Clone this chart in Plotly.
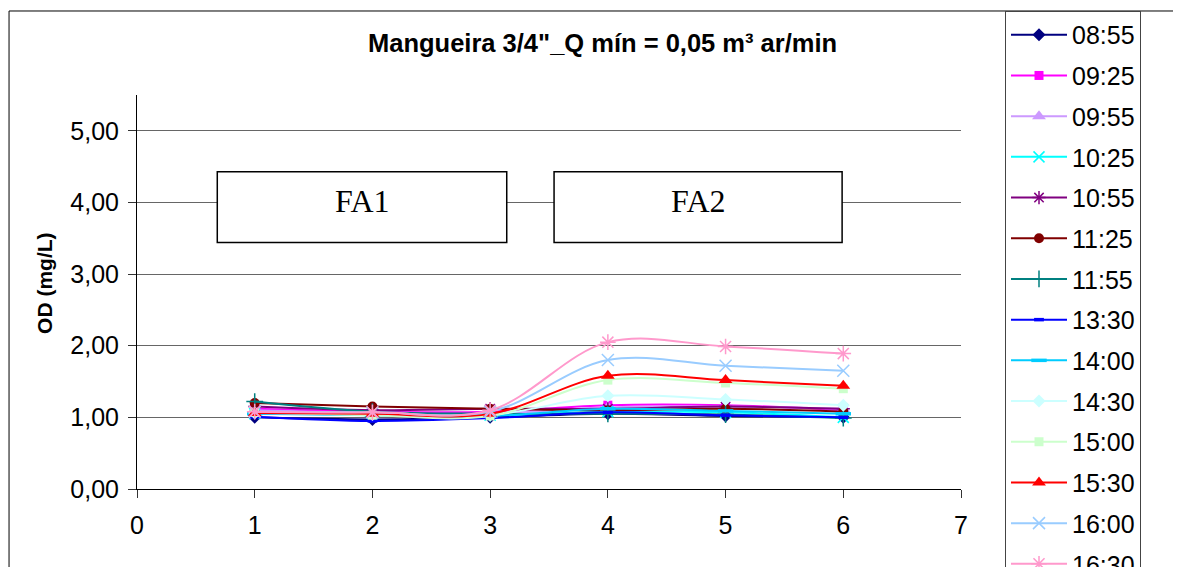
import plotly.graph_objects as go

# ---- data ----
x_points = [1, 2, 3, 4, 5, 6]
series_names = ["08:55", "09:25", "09:55", "10:25", "10:55", "11:25", "11:55",
                "13:30", "14:00", "14:30", "15:00", "15:30", "16:00", "16:30"]
v_0855 = [1.00, 0.97, 1.00, 1.05, 1.02, 1.00]
v_0925 = [1.12, 1.08, 1.08, 1.17, 1.17, 1.10]
v_0955 = [1.10, 1.06, 1.05, 1.14, 1.15, 1.12]
v_1025 = [1.05, 1.05, 1.03, 1.08, 1.07, 1.00]
v_1055 = [1.15, 1.10, 1.12, 1.12, 1.15, 1.12]
v_1125 = [1.20, 1.15, 1.12, 1.10, 1.12, 1.08]
v_1155 = [1.22, 1.08, 1.05, 1.05, 1.04, 0.99]
v_1330 = [1.01, 0.95, 0.99, 1.07, 1.03, 1.00]
v_1400 = [1.05, 1.03, 1.02, 1.12, 1.09, 1.05]
v_1430 = [1.06, 1.04, 1.03, 1.30, 1.25, 1.17]
v_1500 = [1.07, 1.03, 1.02, 1.52, 1.48, 1.40]
v_1530 = [1.06, 1.05, 1.05, 1.58, 1.52, 1.44]
v_1600 = [1.08, 1.07, 1.08, 1.80, 1.72, 1.65]
v_1630 = [1.08, 1.07, 1.10, 2.05, 1.99, 1.89]
series_values = [v_0855, v_0925, v_0955, v_1025, v_1055, v_1125, v_1155,
                 v_1330, v_1400, v_1430, v_1500, v_1530, v_1600, v_1630]

x_ticks = [0, 1, 2, 3, 4, 5, 6, 7]
y_ticks = [0, 1, 2, 3, 4, 5]
title_text = "Mangueira 3/4\"_Q mín = 0,05 m³ ar/min"
y_title = "OD (mg/L)"
box_labels = ["FA1", "FA2"]

# ---- styles ----
colors = ["#000080", "#FF00FF", "#CC99FF", "#00FFFF", "#800080", "#800000", "#008080",
          "#0000FF", "#00CCFF", "#CCFFFF", "#CCFFCC", "#FF0000", "#99CCFF", "#FF99CC"]
symbols = ["diamond", "square", "triangle-up", "x-thin-open", "asterisk-open", "circle",
           "cross-thin-open", "line-ew-open", "line-ew-open", "diamond", "square",
           "triangle-up", "x-thin-open", "asterisk-open"]
sizes = [10, 9, 12, 11, 11, 10, 12, 7, 11, 10, 9, 12, 12, 13]
mline = [0, 0, 0, 1.5, 1.5, 0, 1.5, 3.5, 3.5, 0, 0, 0, 1.5, 1.5]

FONT = "Liberation Sans, Arial, sans-serif"

fig = go.Figure()
for i, (name, vals) in enumerate(zip(series_names, series_values)):
    fig.add_trace(go.Scatter(
        x=x_points, y=vals, name=name, mode="lines+markers",
        legendgroup=name,
        line=dict(color=colors[i], width=2, shape="spline", smoothing=1),
        marker=dict(symbol=symbols[i], size=sizes[i], color=colors[i],
                    line=dict(color=colors[i], width=mline[i])),
    ))

# text boxes FA1 / FA2 (data coords)
box_x = [(0.682, 3.141), (3.543, 5.99)]
box_y = (3.44, 4.43)
for (x0, x1), lab in zip(box_x, box_labels):
    fig.add_shape(type="rect", xref="x", yref="y", x0=x0, x1=x1, y0=box_y[0], y1=box_y[1],
                  line=dict(color="black", width=1.5), fillcolor="white", layer="above")
    fig.add_annotation(xref="x", yref="y", x=(x0 + x1) / 2, y=4.02, text=lab, showarrow=False,
                       xanchor="center", yanchor="middle",
                       font=dict(family="Liberation Serif, Times New Roman, serif", size=32, color="black"))

# outer chart border
fig.add_shape(type="rect", xref="paper", yref="paper", x0=-0.1553, x1=1.35, y0=-0.4, y1=1.2132,
              line=dict(color="black", width=1), fillcolor="rgba(0,0,0,0)", layer="above")

# y axis title
fig.add_annotation(xref="paper", yref="paper", x=-0.1117, y=0.523, text="<b>" + y_title + "</b>",
                   textangle=-90, showarrow=False, xanchor="center", yanchor="middle",
                   font=dict(family=FONT, size=21, color="black"))

fig.update_layout(
    width=1181, height=567,
    margin=dict(l=129, r=228, t=87, b=86, autoexpand=False),
    paper_bgcolor="white", plot_bgcolor="white",
    separators=",.",
    font=dict(family=FONT, color="black", size=25),
    title=dict(text="<b>" + title_text + "</b>", x=0.565, xref="paper", xanchor="center",
               y=1 - 35 / 567, yref="container", yanchor="middle",
               font=dict(family=FONT, size=25.5, color="black")),
    xaxis=dict(range=[0, 7], tickvals=x_ticks, ticks="outside", ticklen=8, tickcolor="#333",
               showline=True, linecolor="black", linewidth=1, showgrid=False, zeroline=False,
               tickfont=dict(size=25), ticklabelstandoff=6),
    yaxis=dict(range=[0, 5.5], tickvals=y_ticks, tickformat=".2f", ticks="outside", ticklen=8,
               tickcolor="#333", showline=True, linecolor="black", linewidth=1,
               showgrid=True, gridcolor="#666", gridwidth=1, zeroline=False,
               tickfont=dict(size=25), ticklabelstandoff=4),
    showlegend=True,
    legend=dict(x=1.0534, y=1.2132, xref="paper", yref="paper", xanchor="left", yanchor="top",
                bordercolor="#444", borderwidth=1, bgcolor="white",
                font=dict(family=FONT, size=25, color="black"),
                tracegroupgap=5.2, itemwidth=56, maxheight=900, traceorder="grouped"),
)

fig.write_html("out.html")
